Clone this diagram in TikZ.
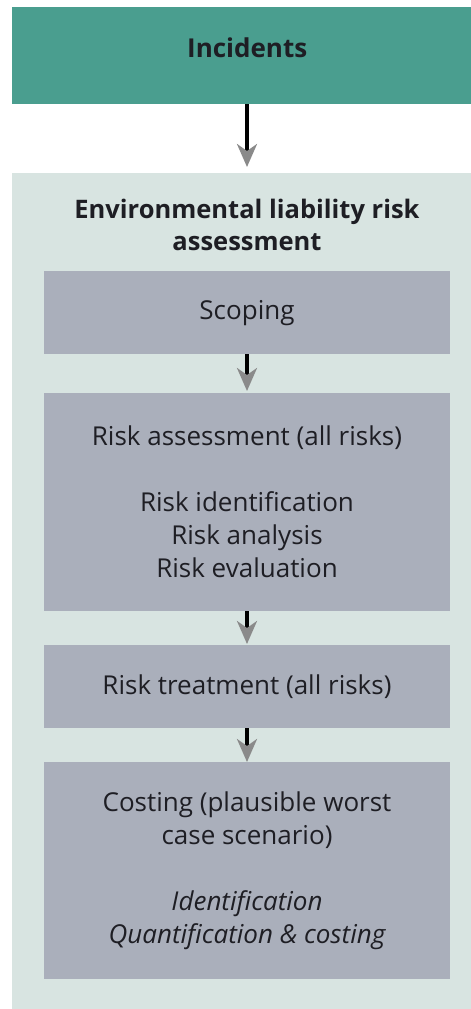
\documentclass[tikz,border=0pt]{standalone}
\usepackage{fontspec}
\setmainfont{Open Sans}
\usetikzlibrary{arrows.meta}
\definecolor{incteal}{HTML}{4A9E8F}
\definecolor{outerbg}{HTML}{D8E4E1}
\definecolor{innerbg}{HTML}{AAAFBB}
\definecolor{txt}{HTML}{1E1E24}
\definecolor{headgray}{HTML}{8A8A8A}
\tikzset{
  incbox/.style={fill=incteal, draw=none, minimum width=470pt, minimum height=97pt,
    anchor=north west, inner sep=0pt, text=txt, font=\fontsize{26}{33}\selectfont\bfseries,
    text height=21pt, text depth=18pt},
  outerbox/.style={fill=outerbg, draw=none, minimum width=470pt, minimum height=840pt,
    anchor=north west, inner sep=0pt},
  titletext/.style={text=txt, align=center, inner sep=0pt,
    font=\fontsize{25.5}{32}\selectfont\bfseries},
  stepbox/.style={fill=innerbg, draw=none, minimum width=406pt, anchor=north,
    inner sep=0pt, align=center, text=txt, font=\fontsize{26}{33}\selectfont},
  flowarrow/.style={line width=3.5pt, black,
    -{Stealth[length=23pt, width=20pt, inset=7pt, color=headgray]}}
}
\begin{document}
\begin{tikzpicture}[x=1pt, y=-1pt]
\useasboundingbox (0,0) rectangle (471,1009);
\clip (0,0) rectangle (471,1009);
\node[incbox] (inc) at (12,7) {Incidents};
\node[outerbox] (assess) at (12,173) {};
\node[titletext, anchor=base] (title) at (247,250) {Environmental liability risk\\assessment};
\node[stepbox, minimum height=83pt] (scope) at (247,271) {Scoping};
\node[stepbox, minimum height=218pt] (ra) at (247,393)
  {Risk assessment (all risks)\\[33pt]Risk identification\\Risk analysis\\Risk evaluation};
\node[stepbox, minimum height=83pt] (rt) at (247,645) {Risk treatment (all risks)};
\node[stepbox, minimum height=217pt] (cost) at (247,762)
  {Costing (plausible worst\\case scenario)\\[33pt]\itshape Identification\\\itshape Quantification \& costing};
\draw[flowarrow, shorten >=6pt] (inc.south -| scope.north) -- (assess.north -| scope.north);
\draw[flowarrow, shorten >=2pt] (scope.south) -- (ra.north);
\draw[flowarrow, shorten >=1pt] (ra.south) -- (rt.north);
\draw[flowarrow, shorten >=0pt] (rt.south) -- (cost.north);
\end{tikzpicture}
\end{document}
